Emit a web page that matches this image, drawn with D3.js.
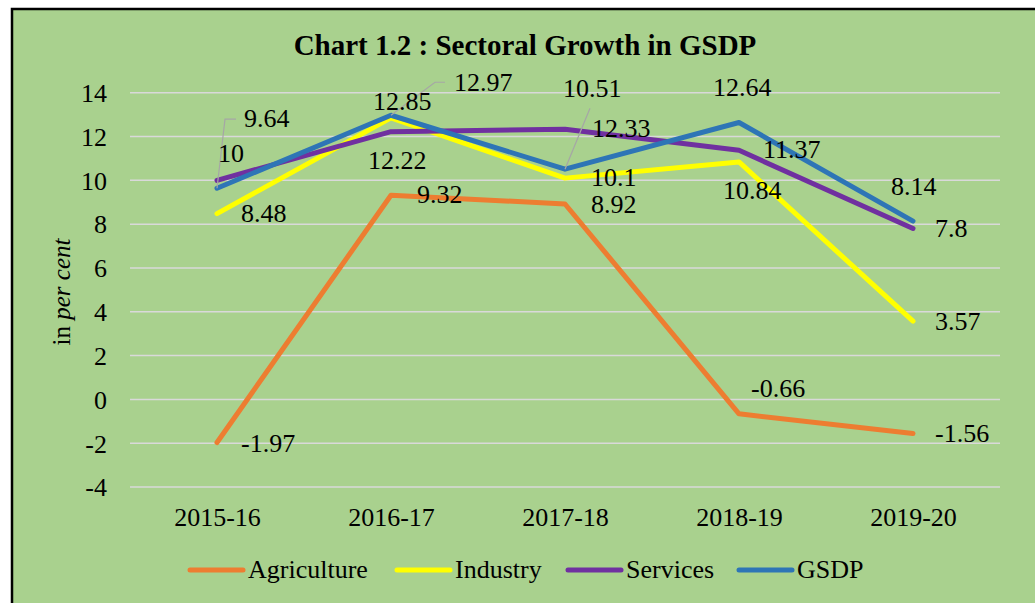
<!DOCTYPE html>
<html>
<head>
<meta charset="utf-8">
<script src="https://cdn.jsdelivr.net/npm/d3@7"></script>
<style>
  body { margin: 0; background: #fff; }
  svg { display: block; }
  text { font-family: "Liberation Serif", "Times New Roman", serif; fill: #000; }
</style>
</head>
<body>
<svg id="chart" width="1035" height="603"></svg>
<script>
// chart data
var years = ["2015-16", "2016-17", "2017-18", "2018-19", "2019-20"];
var agriculture = [-1.97, 9.32, 8.92, -0.66, -1.56];
var industry = [8.48, 12.85, 10.1, 10.84, 3.57];
var services = [10, 12.22, 12.33, 11.37, 7.8];
var gsdp = [9.64, 12.97, 10.51, 12.64, 8.14];
var yTicks = [-4, -2, 0, 2, 4, 6, 8, 10, 12, 14];

var seriesNames = ["Agriculture", "Industry", "Services", "GSDP"];
var seriesColors = ["#ED7D31", "#FFFF00", "#7030A0", "#2E75B6"];

// where each data label sits, relative to its point (dx, dy of baseline)
var labelOffsets = {
  "Agriculture": [[24, 9], [26, 8], [26, 9], [12, -17], [22, 8]],
  "Industry": [[24, 8], [-18, -8], [26, 8], [-16, 37], [22, 9]],
  "Services": [[1, -18], [-23, 37], [27, 8], [24, 8], [22, 8]],
  "GSDP": [[27, -61], [63, -24], [-2, -72], [-26, -26], [-22, -26]]
};
// leader lines for the labels that were pulled away
var leaders = {
  "GSDP": [[[0, 0], [8, -69], [19, -69]], [[0, 0], [44, -33], [54, -33]], [[0, 0], [25, -61]], null, null]
};

var svg = d3.select("#chart");

// frame
svg.append("rect")
  .attr("x", 12).attr("y", 9)
  .attr("width", 1040).attr("height", 620)
  .attr("fill", "#A9D18E")
  .attr("stroke", "#000")
  .attr("stroke-width", 2.5);

var x = d3.scalePoint().domain(years).range([130, 1000]).padding(0.5);
var y = d3.scaleLinear().domain([-4, 14]).range([487, 92.7]);

// gridlines
svg.append("g")
  .selectAll("line")
  .data(yTicks)
  .enter()
  .append("line")
  .attr("x1", 130).attr("x2", 1000)
  .attr("y1", function(d) { return y(d); })
  .attr("y2", function(d) { return y(d); })
  .attr("stroke", "#D9D9D9")
  .attr("stroke-width", 1.5);

// y axis labels (plain hyphen for negatives, like the original)
var yAxis = d3.axisLeft(y).tickValues(yTicks).tickSize(0).tickPadding(0)
  .tickFormat(function(d) { return String(d); });
var gy = svg.append("g").attr("transform", "translate(107,0)").call(yAxis);
gy.select(".domain").remove();
gy.selectAll("text")
  .attr("font-size", "26px")
  .attr("fill", "#000")
  .attr("dy", "0.34em");

// x axis labels
var xAxis = d3.axisBottom(x).tickSize(0).tickPadding(0);
var gx = svg.append("g").attr("transform", "translate(0,526)").call(xAxis);
gx.select(".domain").remove();
gx.selectAll("text")
  .attr("font-size", "26px")
  .attr("fill", "#000")
  .attr("dy", 0);

// title
svg.append("text")
  .attr("x", 525).attr("y", 55)
  .attr("text-anchor", "middle")
  .attr("font-size", "29px")
  .attr("font-weight", "bold")
  .text("Chart 1.2 : Sectoral Growth in GSDP");

// y axis title
var yt = svg.append("text")
  .attr("transform", "translate(70,292) rotate(-90)")
  .attr("text-anchor", "middle")
  .attr("font-size", "25px");
yt.append("tspan").text("in ");
yt.append("tspan").attr("font-style", "italic").text("per cent");

var allSeries = [agriculture, industry, services, gsdp];

var line = d3.line()
  .x(function(d, i) { return x(years[i]); })
  .y(function(d) { return y(d); });

allSeries.forEach(function(values, s) {
  svg.append("path")
    .datum(values)
    .attr("d", line)
    .attr("fill", "none")
    .attr("stroke", seriesColors[s])
    .attr("stroke-width", 5)
    .attr("stroke-linejoin", "round")
    .attr("stroke-linecap", "round");
});

// leader lines
allSeries.forEach(function(values, s) {
  var lds = leaders[seriesNames[s]];
  if (!lds) return;
  values.forEach(function(v, i) {
    if (!lds[i]) return;
    var px = x(years[i]), py = y(v);
    svg.append("polyline")
      .attr("points", lds[i].map(function(p) { return (px + p[0]) + "," + (py + p[1]); }).join(" "))
      .attr("fill", "none")
      .attr("stroke", "#A6A6A6")
      .attr("stroke-width", 1.2);
  });
});

// data labels
allSeries.forEach(function(values, s) {
  var offs = labelOffsets[seriesNames[s]];
  svg.append("g")
    .selectAll("text")
    .data(values)
    .enter()
    .append("text")
    .attr("x", function(d, i) { return x(years[i]) + offs[i][0]; })
    .attr("y", function(d, i) { return y(d) + offs[i][1]; })
    .attr("font-size", "26px")
    .text(function(d) { return d; });
});

// legend
var legendX = [190, 397, 568, 739];
var legend = svg.append("g").selectAll("g")
  .data(seriesNames)
  .enter()
  .append("g")
  .attr("transform", function(d, i) { return "translate(" + legendX[i] + ",570)"; });
legend.append("line")
  .attr("x1", 0).attr("x2", 53)
  .attr("y1", 0).attr("y2", 0)
  .attr("stroke", function(d, i) { return seriesColors[i]; })
  .attr("stroke-width", 5)
  .attr("stroke-linecap", "round");
legend.append("text")
  .attr("x", 58).attr("y", 8)
  .attr("font-size", "26px")
  .text(function(d) { return d; });
</script>
</body>
</html>
